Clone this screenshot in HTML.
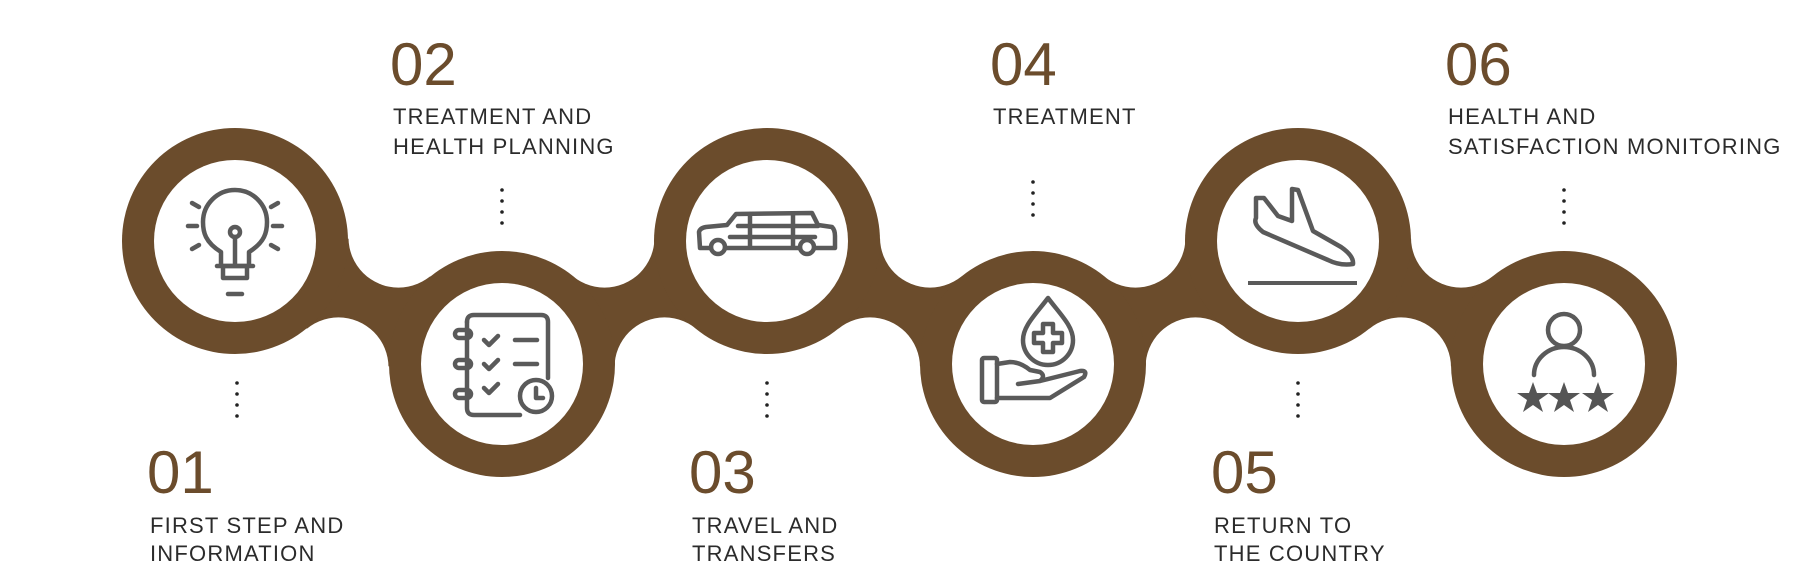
<!DOCTYPE html>
<html><head><meta charset="utf-8"><style>
html,body{margin:0;padding:0;background:#fff;}
svg{display:block;}
.n{font-family:"Liberation Sans",sans-serif;font-size:60px;fill:#6b4c2c;}
.l{font-family:"Liberation Sans",sans-serif;font-size:22px;fill:#2b2b2b;letter-spacing:1.2px;}
.ic{fill:none;stroke:#5a5a5a;stroke-width:4.5;stroke-linecap:round;stroke-linejoin:round;}
.d{fill:#222;}
</style></head><body>
<svg width="1800" height="580" viewBox="0 0 1800 580" xmlns="http://www.w3.org/2000/svg">
<g fill="#6b4c2c">
<polygon points="235,241 398.5,237.6 502,364 338.5,367.4"/>
<polygon points="502,364 604.5,237.6 767,241 664.5,367.4"/>
<polygon points="767,241 930,237.6 1033,364 870,367.4"/>
<polygon points="1033,364 1135.5,237.6 1298,241 1195.5,367.4"/>
<polygon points="1298,241 1461,237.6 1564,364 1401,367.4"/>
</g>
<g fill="#fff">
<circle cx="398.5" cy="237.6" r="50"/><circle cx="338.5" cy="367.4" r="50"/>
<circle cx="604.5" cy="237.6" r="50"/><circle cx="664.5" cy="367.4" r="50"/>
<circle cx="930" cy="237.6" r="50"/><circle cx="870" cy="367.4" r="50"/>
<circle cx="1135.5" cy="237.6" r="50"/><circle cx="1195.5" cy="367.4" r="50"/>
<circle cx="1461" cy="237.6" r="50"/><circle cx="1401" cy="367.4" r="50"/>
</g>
<g fill="#6b4c2c">
<circle cx="235" cy="241" r="113"/>
<circle cx="502" cy="364" r="113"/>
<circle cx="767" cy="241" r="113"/>
<circle cx="1033" cy="364" r="113"/>
<circle cx="1298" cy="241" r="113"/>
<circle cx="1564" cy="364" r="113"/>
</g>
<g fill="#fff">
<circle cx="235" cy="241" r="81"/>
<circle cx="502" cy="364" r="81"/>
<circle cx="767" cy="241" r="81"/>
<circle cx="1033" cy="364" r="81"/>
<circle cx="1298" cy="241" r="81"/>
<circle cx="1564" cy="364" r="81"/>
</g>

<!-- bulb -->
<g class="ic">
<path d="M221 264 L221 252 C205 242 203 232 203 222 A32 32 0 1 1 267 222 C267 232 265 242 249 252 L249 264"/>
<circle cx="235" cy="232" r="5"/>
<line x1="235" y1="237" x2="235" y2="264"/>
<line x1="217" y1="266" x2="253" y2="266"/>
<rect x="223" y="266" width="24" height="12"/>
<line x1="228" y1="294" x2="242" y2="294"/>
<line x1="188" y1="226" x2="197" y2="226"/><line x1="273" y1="226" x2="282" y2="226"/>
<line x1="192" y1="203" x2="199" y2="207"/><line x1="271" y1="207" x2="278" y2="203"/>
<line x1="192" y1="249" x2="199" y2="245"/><line x1="271" y1="245" x2="278" y2="249"/>
</g>
<!-- checklist -->
<g class="ic">
<path d="M467 322 Q467 315 474 315 L541 315 Q548 315 548 322 L548 378"/>
<path d="M467 322 L467 408 Q467 415 474 415 L520 415"/>
<rect x="455" y="330" width="16" height="8" rx="4"/>
<rect x="455" y="360" width="16" height="8" rx="4"/>
<rect x="455" y="390" width="16" height="8" rx="4"/>
<path d="M484 340 l5 5 l9 -9"/><line x1="515" y1="340" x2="537" y2="340"/>
<path d="M484 364 l5 5 l9 -9"/><line x1="515" y1="364" x2="537" y2="364"/>
<path d="M484 388 l5 5 l9 -9"/>
<circle cx="536" cy="396" r="16"/>
<path d="M536 388 L536 398 L543 398"/>
</g>
<!-- limo -->
<g class="ic" stroke-width="3.5">
<path d="M711 248 L700 248 L699 232 Q700 228 706 227 L727 225 L736 214 L812 213 L818 225 L832 227 Q835 230 835 236 L835 248 L815 248"/>
<path d="M725 248 L800 248"/>
<circle cx="718" cy="247" r="7"/><circle cx="807" cy="247" r="7"/>
<line x1="738" y1="226" x2="818" y2="226"/>
<line x1="750" y1="214" x2="750" y2="246"/>
<line x1="793" y1="214" x2="793" y2="246"/>
<line x1="730" y1="237" x2="815" y2="237"/>
</g>
<!-- hand & drop -->
<g class="ic" stroke-width="3.5">
<path d="M1048 298 C1036 314 1023 326 1023 340 A25 25 0 0 0 1073 340 C1073 326 1060 314 1048 298 Z"/>
<path d="M1043 324 h10 v9 h9 v10 h-9 v9 h-10 v-9 h-9 v-10 h9 z"/>
<rect x="982" y="358" width="15" height="44" rx="2"/>
<path d="M997 364 L1010 362 Q1020 362 1030 370 L1040 372 Q1046 376 1040 381 L1018 384 M1040 381 L1080 371 Q1088 370 1084 377 L1050 398 L997 398"/>
</g>
<!-- plane -->
<g class="ic" stroke-width="3.5">
<path d="M1256 198 L1264 198 L1278 216 L1292 221 L1292 189 L1298 190 L1313 231 L1341 247 Q1354 256 1353 264 Q1340 266 1328 260 L1263 232 Q1253 224 1256 218 Z"/>
</g>
<line x1="1248" y1="283" x2="1357" y2="283" stroke="#5a5a5a" stroke-width="4"/>
<!-- person stars -->
<g class="ic" stroke-width="5">
<circle cx="1564" cy="330" r="16"/>
<path d="M1534 375 A30 28 0 0 1 1594 375"/>
</g>
<g fill="#555">
<polygon points="1533,382 1537,393 1549,393 1539,400 1543,412 1533,405 1523,412 1527,400 1517,393 1529,393"/>
<polygon points="1564,382 1568,393 1580,393 1570,400 1574,412 1564,405 1554,412 1558,400 1548,393 1560,393"/>
<polygon points="1598,382 1602,393 1614,393 1604,400 1608,412 1598,405 1588,412 1592,400 1582,393 1594,393"/>
</g>

<!-- dots -->
<g class="d">
<circle cx="237" cy="383" r="1.8"/><circle cx="237" cy="394" r="1.8"/><circle cx="237" cy="405" r="1.8"/><circle cx="237" cy="416" r="1.8"/>
<circle cx="502" cy="190" r="1.8"/><circle cx="502" cy="201" r="1.8"/><circle cx="502" cy="212" r="1.8"/><circle cx="502" cy="223" r="1.8"/>
<circle cx="767" cy="383" r="1.8"/><circle cx="767" cy="394" r="1.8"/><circle cx="767" cy="405" r="1.8"/><circle cx="767" cy="416" r="1.8"/>
<circle cx="1033" cy="182" r="1.8"/><circle cx="1033" cy="193" r="1.8"/><circle cx="1033" cy="204" r="1.8"/><circle cx="1033" cy="215" r="1.8"/>
<circle cx="1298" cy="383" r="1.8"/><circle cx="1298" cy="394" r="1.8"/><circle cx="1298" cy="405" r="1.8"/><circle cx="1298" cy="416" r="1.8"/>
<circle cx="1564" cy="190" r="1.8"/><circle cx="1564" cy="201" r="1.8"/><circle cx="1564" cy="212" r="1.8"/><circle cx="1564" cy="223" r="1.8"/>
</g>

<!-- texts -->
<text class="n" x="147" y="493">01</text>
<text class="l" x="150" y="533">FIRST STEP AND</text>
<text class="l" x="150" y="561">INFORMATION</text>

<text class="n" x="390" y="85">02</text>
<text class="l" x="393" y="124">TREATMENT AND</text>
<text class="l" x="393" y="154">HEALTH PLANNING</text>

<text class="n" x="689" y="493">03</text>
<text class="l" x="692" y="533">TRAVEL AND</text>
<text class="l" x="692" y="561">TRANSFERS</text>

<text class="n" x="990" y="85">04</text>
<text class="l" x="993" y="124">TREATMENT</text>

<text class="n" x="1211" y="493">05</text>
<text class="l" x="1214" y="533">RETURN TO</text>
<text class="l" x="1214" y="561">THE COUNTRY</text>

<text class="n" x="1445" y="85">06</text>
<text class="l" x="1448" y="124">HEALTH AND</text>
<text class="l" x="1448" y="154">SATISFACTION MONITORING</text>
</svg>
</body></html>
